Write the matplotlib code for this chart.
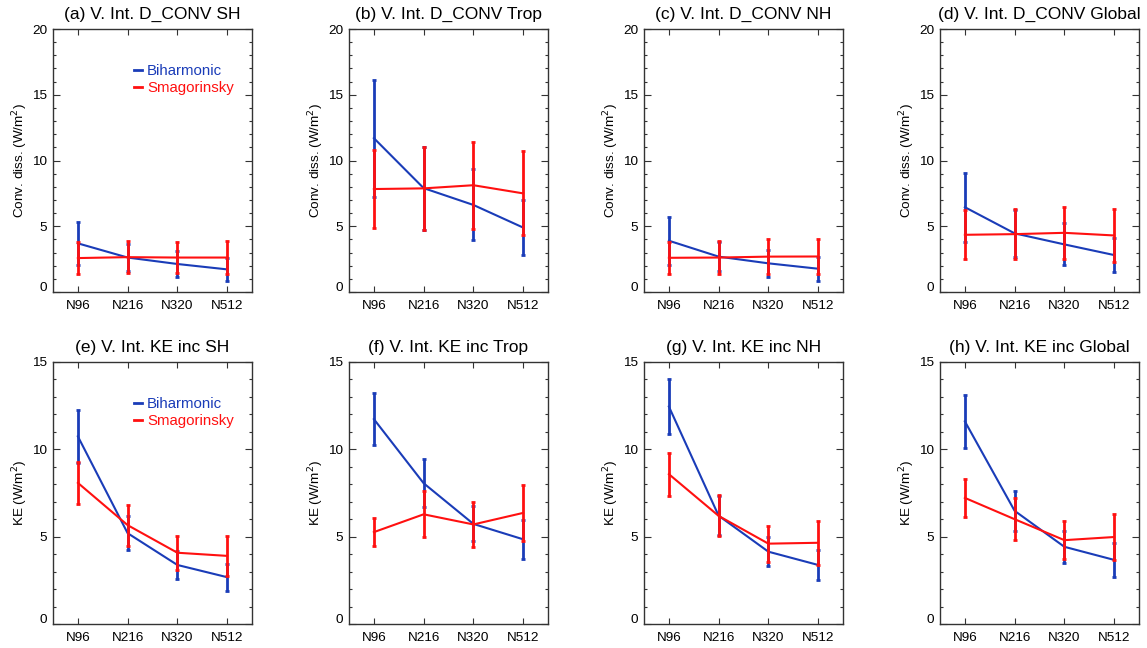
import matplotlib
matplotlib.use("Agg")
import matplotlib.pyplot as plt
import matplotlib.transforms as mtransforms
from matplotlib.lines import Line2D
from matplotlib.ticker import MultipleLocator

plt.rcParams['font.family'] = ['Liberation Sans', 'DejaVu Sans']

resolutions = ["N96", "N216", "N320", "N512"]

# Vertically integrated convective dissipation (W/m^2)
conv_sh_bih = [3.70, 2.62, 2.13, 1.72]
conv_sh_bih_err = [1.65, 1.00, 1.00, 0.87]
conv_sh_smag = [2.58, 2.65, 2.62, 2.62]
conv_sh_smag_err = [1.20, 1.20, 1.20, 1.25]

conv_trop_bih = [11.70, 7.90, 6.62, 4.90]
conv_trop_bih_err = [4.45, 3.15, 2.70, 2.10]
conv_trop_smag = [7.83, 7.88, 8.12, 7.50]
conv_trop_smag_err = [3.00, 3.15, 3.30, 3.20]

conv_nh_bih = [3.90, 2.69, 2.18, 1.77]
conv_nh_bih_err = [1.83, 1.10, 1.03, 0.90]
conv_nh_smag = [2.60, 2.62, 2.69, 2.70]
conv_nh_smag_err = [1.20, 1.27, 1.33, 1.33]

conv_gl_bih = [6.45, 4.46, 3.62, 2.81]
conv_gl_bih_err = [2.62, 1.80, 1.60, 1.28]
conv_gl_smag = [4.35, 4.40, 4.50, 4.30]
conv_gl_smag_err = [1.85, 1.88, 2.00, 2.00]

# Vertically integrated KE increment (W/m^2)
ke_sh_bih = [10.74, 5.20, 3.38, 2.68]
ke_sh_bih_err = [1.50, 0.96, 0.78, 0.78]
ke_sh_smag = [8.08, 5.66, 4.08, 3.90]
ke_sh_smag_err = [1.22, 1.17, 0.97, 1.13]

ke_trop_bih = [11.73, 8.06, 5.73, 4.85]
ke_trop_bih_err = [1.50, 1.38, 1.00, 1.13]
ke_trop_smag = [5.26, 6.28, 5.70, 6.36]
ke_trop_smag_err = [0.82, 1.31, 1.27, 1.60]

ke_nh_bih = [12.45, 6.20, 4.14, 3.38]
ke_nh_bih_err = [1.60, 1.10, 0.84, 0.86]
ke_nh_smag = [8.58, 6.19, 4.60, 4.65]
ke_nh_smag_err = [1.23, 1.18, 1.03, 1.26]

ke_gl_bih = [11.60, 6.48, 4.42, 3.67]
ke_gl_bih_err = [1.52, 1.15, 0.92, 0.96]
ke_gl_smag = [7.22, 6.00, 4.80, 4.98]
ke_gl_smag_err = [1.08, 1.20, 1.08, 1.33]

titles = [
    "(a) V. Int. D_CONV SH", "(b) V. Int. D_CONV Trop",
    "(c) V. Int. D_CONV NH", "(d) V. Int. D_CONV Global",
    "(e) V. Int. KE inc SH", "(f) V. Int. KE inc Trop",
    "(g) V. Int. KE inc NH", "(h) V. Int. KE inc Global",
]

panels = [
    (conv_sh_bih, conv_sh_bih_err, conv_sh_smag, conv_sh_smag_err),
    (conv_trop_bih, conv_trop_bih_err, conv_trop_smag, conv_trop_smag_err),
    (conv_nh_bih, conv_nh_bih_err, conv_nh_smag, conv_nh_smag_err),
    (conv_gl_bih, conv_gl_bih_err, conv_gl_smag, conv_gl_smag_err),
    (ke_sh_bih, ke_sh_bih_err, ke_sh_smag, ke_sh_smag_err),
    (ke_trop_bih, ke_trop_bih_err, ke_trop_smag, ke_trop_smag_err),
    (ke_nh_bih, ke_nh_bih_err, ke_nh_smag, ke_nh_smag_err),
    (ke_gl_bih, ke_gl_bih_err, ke_gl_smag, ke_gl_smag_err),
]

BLUE = "#1a3cb8"
RED = "#ff1010"

W, H = 1147, 648
fig = plt.figure(figsize=(W / 100, H / 100), dpi=100)

lefts = [53, 349, 644, 940]
rows = [(29, 292), (362, 624)]
x = list(range(len(resolutions)))

for i, (title, (bih, bih_err, smag, smag_err)) in enumerate(zip(titles, panels)):
    r, c = divmod(i, 4)
    top, bottom = rows[r]
    ax = fig.add_axes([lefts[c] / W, (H - bottom) / H, 199 / W, (bottom - top) / H])

    ax.errorbar(x, bih, yerr=bih_err, color=BLUE, lw=1.5, elinewidth=2.0,
                capsize=1.2, capthick=2.0, zorder=3)
    ax.errorbar(x, smag, yerr=smag_err, color=RED, lw=1.5, elinewidth=2.0,
                capsize=1.2, capthick=2.0, zorder=4)

    ax.set_xlim(-0.5, 3.5)
    if r == 0:
        ax.set_ylim(0, 20)
        ax.set_ylabel("Conv. diss. (W/m$^2$)", fontsize=9.7, labelpad=2)
    else:
        ax.set_ylim(0, 15)
        ax.set_ylabel("KE (W/m$^2$)", fontsize=9.7, labelpad=2)
    ax.yaxis.set_major_locator(MultipleLocator(5))
    ax.yaxis.set_minor_locator(MultipleLocator(1))
    ax.set_xticks(x)
    ax.set_xticklabels(resolutions)

    ax.tick_params(axis="both", which="both", direction="in", top=True,
                   right=True, labelsize=9.7, color="#333333", width=0.8)
    ax.tick_params(axis="y", which="major", length=5, pad=4)
    ax.tick_params(axis="y", which="minor", length=2.5)
    ax.tick_params(axis="x", which="major", length=4, pad=6)
    for sp in ax.spines.values():
        sp.set_color("#333333")
        sp.set_linewidth(1.0)

    ax.set_title(title, fontsize=12.5, pad=7)

    # lift the zero label slightly off the bottom axis
    fig.canvas.draw()
    for lab in ax.get_yticklabels():
        if lab.get_text() in ("0", "\u22120"):
            lab.set_transform(lab.get_transform() +
                              mtransforms.ScaledTranslation(0, 4 / 72, fig.dpi_scale_trans))

    if c == 0:
        handles = [Line2D([], [], color=BLUE, lw=2.0),
                   Line2D([], [], color=RED, lw=2.0)]
        leg = ax.legend(handles, ["Biharmonic", "Smagorinsky"],
                        loc="upper left", bbox_to_anchor=(0.37, 0.895), frameon=False,
                        fontsize=10.8, handlelength=0.55, handletextpad=0.3,
                        labelspacing=0.2, borderpad=0)
        for txt, col in zip(leg.get_texts(), [BLUE, RED]):
            txt.set_color(col)

fig.savefig("out.png", dpi=100)
